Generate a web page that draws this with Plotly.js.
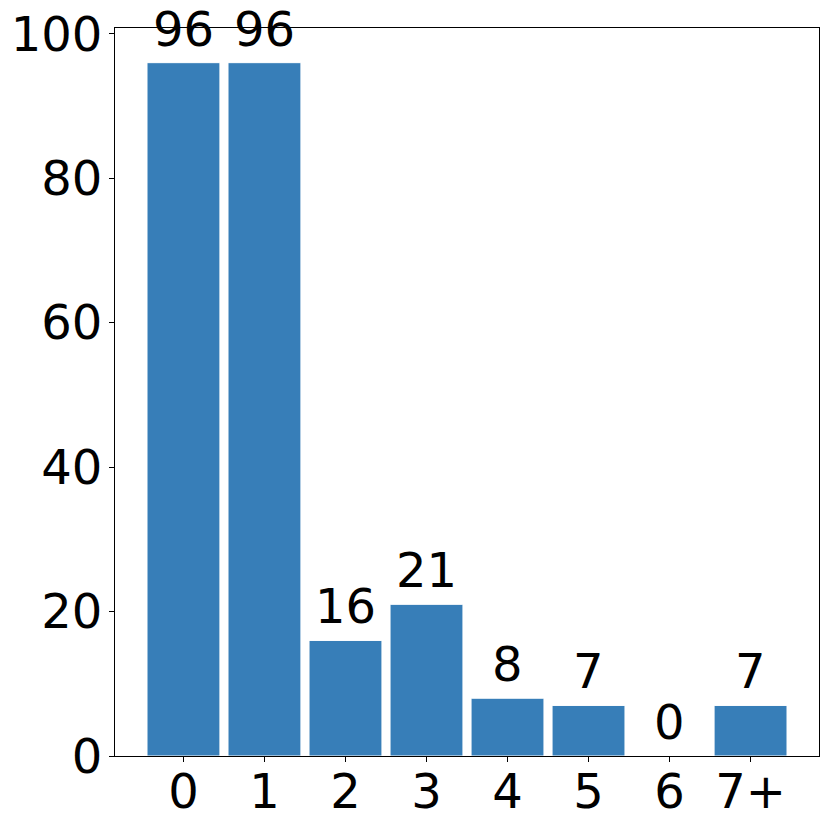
<!DOCTYPE html>
<html>
<head>
<meta charset="utf-8">
<script src="https://cdn.plot.ly/plotly-3.0.1.min.js"></script>
<style>
  body { margin: 0; background: #fff; }
  #chart { width: 830px; height: 825px; }
</style>
</head>
<body>
<div id="chart"></div>
<script>
const categories = ['0', '1', '2', '3', '4', '5', '6', '7+'];
const counts = [96, 96, 16, 21, 8, 7, 0, 7];
const yTicks = [0, 20, 40, 60, 80, 100];

const font = { family: 'DejaVu Sans, sans-serif', size: 48, color: '#000' };

const trace = {
  x: categories,
  y: counts,
  type: 'bar',
  width: 0.9,
  marker: { color: '#377eb8', line: { color: '#ffffff', width: 1 } },
  hoverinfo: 'x+y'
};

// value labels above each bar
const labels = categories.map((c, i) => ({
  x: c,
  y: counts[i],
  text: String(counts[i]),
  showarrow: false,
  xanchor: 'center',
  yanchor: 'bottom',
  yshift: 4,
  font: font
}));

const layout = {
  width: 830,
  height: 825,
  margin: { l: 115, r: 11, t: 28, b: 69 },
  paper_bgcolor: '#fff',
  plot_bgcolor: '#fff',
  font: font,
  showlegend: false,
  bargap: 0.1,
  xaxis: {
    type: 'category',
    range: [-0.845, 7.845],
    showgrid: false,
    zeroline: false,
    showline: true,
    linecolor: '#000',
    linewidth: 1,
    mirror: true,
    ticks: 'outside',
    ticklen: 5,
    tickcolor: '#000',
    ticklabelstandoff: -12,
    tickfont: font
  },
  yaxis: {
    range: [0, 100.8],
    tickvals: yTicks,
    showgrid: false,
    zeroline: false,
    showline: true,
    linecolor: '#000',
    linewidth: 1,
    mirror: true,
    ticks: 'outside',
    ticklen: 5,
    tickcolor: '#000',
    ticklabelstandoff: -3,
    tickfont: font
  },
  annotations: labels
};

Plotly.newPlot('chart', [trace], layout, { displayModeBar: false, responsive: false });
</script>
</body>
</html>
